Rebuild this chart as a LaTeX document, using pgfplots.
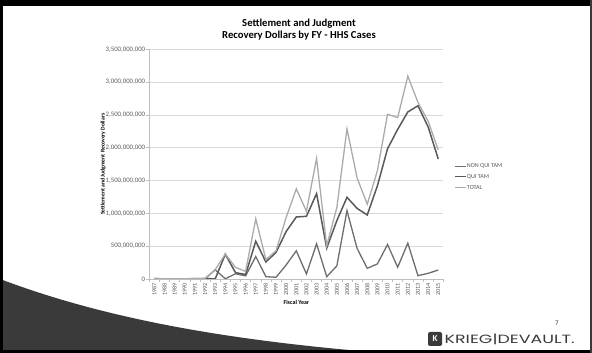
\documentclass[border=0pt]{standalone}
\usepackage{fontspec}
\setmainfont{Carlito}
\newfontfamily\logofont{Poppins}
\usepackage{graphicx}
\usepackage{pgfplots}
\usepackage{pgfplotstable}
\pgfplotsset{compat=1.18}
\definecolor{tickgray}{HTML}{595959}
\definecolor{axisgray}{HTML}{BFBFBF}
\definecolor{gridgray}{HTML}{D9D9D9}
\definecolor{nqt}{HTML}{6E6E6E}
\definecolor{qt}{HTML}{5A5A5A}
\definecolor{tot}{HTML}{ABABAB}
\definecolor{slidedark}{HTML}{3A3A3A}

% values in millions of dollars
\pgfplotstableread{
idx year nqt qt total
0 1987 4 6 10
1 1988 1 1 2
2 1989 1 2 3
3 1990 2 3 5
4 1991 2 4 6
5 1992 3 7 10
6 1993 140 2 142
7 1994 3 378 381
8 1995 80 97 177
9 1996 48 68 116
10 1997 342 575 917
11 1998 36 260 296
12 1999 26 405 431
13 2000 214 724 938
14 2001 429 945 1374
15 2002 77 955 1032
16 2003 536 1301 1837
17 2004 36 470 506
18 2005 199 890 1089
19 2006 1041 1245 2286
20 2007 464 1075 1539
21 2008 163 976 1139
22 2009 230 1420 1650
23 2010 526 1985 2511
24 2011 179 2280 2459
25 2012 546 2545 3091
26 2013 51 2640 2691
27 2014 86 2320 2406
28 2015 137 1830 1967
}\hhsdata

\begin{document}
\begin{tikzpicture}
\useasboundingbox (0bp,0bp) rectangle (592bp,353bp);
\fill[white] (0bp,0bp) rectangle (592bp,353bp);
% slide decoration
\fill[slidedark] (0bp,0bp) -- (0bp,74bp) .. controls (90bp,40bp) and (200bp,16bp) .. (360bp,2bp) -- (360bp,0bp) -- cycle;
\fill[black] (0bp,347.3bp) rectangle (592bp,353bp);
\fill[black] (0bp,0bp) rectangle (3bp,353bp);
\fill[black] (0bp,0bp) rectangle (592bp,3bp);
\fill[slidedark] (589.5bp,0bp) rectangle (592bp,353bp);

\node[align=center, font=\bfseries\fontsize{10.7}{11.6}\selectfont] at (299bp,323.3bp)
  {Settlement and Judgment\\Recovery Dollars by FY - HHS Cases};

\begin{axis}[
  at={(149.3bp,74bp)}, anchor=south west,
  scale only axis, width=294bp, height=229.7bp,
  xmin=-0.5, xmax=28.5, ymin=0, ymax=3500,
  axis x line=bottom, axis y line=left,
  axis line style={axisgray, line width=0.8bp, -},
  ytick={0,500,1000,1500,2000,2500,3000,3500},
  yticklabels={0,{500,000,000},{1,000,000,000},{1,500,000,000},{2,000,000,000},{2,500,000,000},{3,000,000,000},{3,500,000,000}},
  ymajorgrids, grid style={gridgray, line width=0.8bp},
  xtick={0,...,28},
  xticklabels from table={\hhsdata}{year},
  major x tick style={draw=none},
  minor xtick={-0.5,0.5,...,28.5},
  minor x tick style={axisgray, line width=0.6bp},
  y tick style={axisgray, line width=0.6bp},
  tick align=outside,
  major tick length=3bp, minor tick length=3bp,
  yticklabel style={font=\fontsize{6.8}{7.5}\selectfont, text=tickgray, inner sep=1bp},
  xticklabel style={rotate=90, anchor=east, font=\fontsize{6.1}{7}\selectfont, text=tickgray, inner sep=1bp},
  xlabel={Fiscal Year},
  ylabel={Settlement and Judgment Recovery Dollars},
  every axis x label/.style={at={(axis description cs:0.5,-0.100)}, anchor=center, font=\bfseries\fontsize{6}{7}\selectfont},
  every axis y label/.style={at={(axis description cs:-0.1575,0.5)}, rotate=90, anchor=center, font=\bfseries\fontsize{5.7}{7}\selectfont},
  legend style={at={(axis description cs:1.0374,0.507)}, anchor=north west, draw=none, fill=none,
    font=\fontsize{6.1}{7}\selectfont, text=tickgray, row sep=4bp, inner sep=0pt,
    nodes={inner sep=0.5bp, text height=4.5bp, text depth=1.2bp}},
  legend cell align=left,
  legend image code/.code={\draw[#1, line width=1bp] (0bp,0bp) -- (11bp,0bp);},
  no markers,
]
\addplot[nqt, line width=1.3bp] table[x=idx, y=nqt]{\hhsdata};
\addlegendentry{NON QUI TAM}
\addplot[qt, line width=1.5bp] table[x=idx, y=qt]{\hhsdata};
\addlegendentry{QUI TAM}
\addplot[tot, line width=1.3bp] table[x=idx, y=total]{\hhsdata};
\addlegendentry{TOTAL}
\end{axis}

% page number and logo
\node[font=\fontsize{7}{8}\selectfont, text=slidedark] at (557bp,30bp) {7};
\fill[slidedark, rounded corners=2bp] (428bp,7bp) rectangle (442bp,21bp);
\node[text=white, font=\bfseries\fontsize{9}{9}\selectfont, inner sep=0] at (435bp,14bp) {K};
\node[anchor=west, inner sep=0, text=slidedark] at (444.5bp,14bp) {\resizebox{130bp}{9.5bp}{\logofont KRIEG|DEVAULT.}};
\end{tikzpicture}
\end{document}
